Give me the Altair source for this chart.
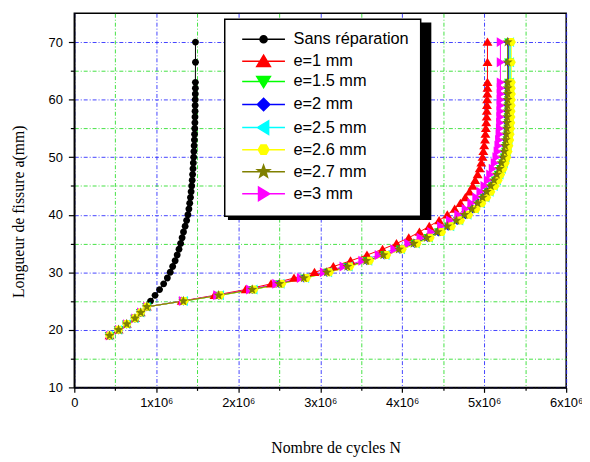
import math
import altair as alt
import pandas as pd

# ---------------- data (N in millions of cycles, a in mm) ----------------
A_MM = [19, 20, 21, 22, 23, 24, 25, 26, 27, 28, 29, 30, 31, 32, 33, 34, 35, 36, 37, 38,
        39, 40, 41, 42, 43, 44, 45, 46, 47, 48, 49, 50, 51, 52, 53, 54, 55, 56, 57, 58,
        59, 60, 61, 62, 63, 66.5, 70]

SERIES = ["Sans réparation", "e=1 mm", "e=1.5 mm", "e=2 mm", "e=2.5 mm",
          "e=2.6 mm", "e=2.7 mm", "e=3 mm"]

N_SANS = [0.43, 0.54, 0.64, 0.74, 0.81, 0.885, 0.93, 0.985, 1.04, 1.09, 1.135, 1.17, 1.20, 1.23,
          1.255, 1.277, 1.297, 1.315, 1.332, 1.352, 1.37, 1.386, 1.398, 1.408, 1.417, 1.425,
          1.432, 1.438, 1.443, 1.448, 1.452, 1.456, 1.459, 1.462, 1.465, 1.467, 1.469, 1.471,
          1.472, 1.473, 1.474, 1.475, 1.476, 1.477, 1.477, 1.478, 1.478]
N_E1 = [0.43, 0.54, 0.64, 0.74, 0.81, 0.885, 1.31, 1.71, 2.09, 2.40, 2.68, 2.93, 3.16, 3.37,
        3.57, 3.76, 3.93, 4.08, 4.21, 4.33, 4.45, 4.55, 4.64, 4.71, 4.77, 4.82, 4.86, 4.89,
        4.92, 4.945, 4.965, 4.98, 4.99, 5.0, 5.01, 5.015, 5.02, 5.025, 5.03, 5.032, 5.034,
        5.036, 5.038, 5.04, 5.04, 5.04, 5.04]
N_E15 = [0.43, 0.54, 0.64, 0.74, 0.81, 0.885, 1.33, 1.77, 2.18, 2.51, 2.81, 3.09, 3.34, 3.58,
         3.79, 3.98, 4.16, 4.32, 4.45, 4.57, 4.68, 4.78, 4.87, 4.94, 5.0, 5.05, 5.1, 5.14,
         5.175, 5.205, 5.23, 5.25, 5.265, 5.275, 5.283, 5.289, 5.293, 5.296, 5.298, 5.3,
         5.301, 5.302, 5.303, 5.303, 5.303, 5.303, 5.303]
N_E2 = [0.43, 0.54, 0.64, 0.74, 0.81, 0.885, 1.33, 1.76, 2.17, 2.50, 2.80, 3.08, 3.33, 3.57,
        3.78, 3.97, 4.15, 4.31, 4.44, 4.56, 4.67, 4.77, 4.86, 4.93, 4.99, 5.04, 5.09, 5.13,
        5.165, 5.195, 5.22, 5.24, 5.255, 5.265, 5.273, 5.279, 5.283, 5.286, 5.288, 5.29,
        5.291, 5.292, 5.293, 5.293, 5.293, 5.293, 5.293]
N_E25 = [0.43, 0.54, 0.64, 0.74, 0.81, 0.885, 1.34, 1.78, 2.19, 2.52, 2.82, 3.10, 3.35, 3.59,
         3.80, 3.99, 4.17, 4.33, 4.47, 4.59, 4.70, 4.80, 4.89, 4.96, 5.02, 5.07, 5.12, 5.16,
         5.19, 5.22, 5.245, 5.265, 5.28, 5.29, 5.30, 5.306, 5.31, 5.313, 5.315, 5.317,
         5.318, 5.319, 5.32, 5.32, 5.32, 5.32, 5.32]
N_E26 = [0.43, 0.54, 0.64, 0.74, 0.81, 0.885, 1.34, 1.78, 2.19, 2.53, 2.83, 3.11, 3.36, 3.60,
         3.81, 4.00, 4.18, 4.34, 4.48, 4.60, 4.71, 4.81, 4.90, 4.97, 5.03, 5.08, 5.13, 5.17,
         5.20, 5.23, 5.255, 5.275, 5.29, 5.30, 5.31, 5.315, 5.32, 5.323, 5.325, 5.327,
         5.328, 5.329, 5.33, 5.33, 5.33, 5.33, 5.33]
N_E27 = [0.43, 0.54, 0.64, 0.74, 0.81, 0.885, 1.33, 1.76, 2.17, 2.50, 2.80, 3.08, 3.33, 3.56,
         3.77, 3.96, 4.14, 4.30, 4.43, 4.55, 4.66, 4.76, 4.85, 4.92, 4.98, 5.03, 5.08, 5.12,
         5.155, 5.185, 5.21, 5.23, 5.245, 5.255, 5.263, 5.27, 5.275, 5.278, 5.28, 5.282,
         5.283, 5.284, 5.285, 5.285, 5.285, 5.285, 5.285]
N_E3 = [0.43, 0.54, 0.64, 0.74, 0.81, 0.885, 1.32, 1.74, 2.14, 2.46, 2.76, 3.04, 3.28, 3.51,
        3.71, 3.90, 4.07, 4.22, 4.35, 4.47, 4.58, 4.68, 4.77, 4.84, 4.90, 4.95, 5.00, 5.04,
        5.07, 5.10, 5.125, 5.145, 5.16, 5.17, 5.178, 5.184, 5.188, 5.191, 5.193, 5.195,
        5.196, 5.197, 5.198, 5.198, 5.198, 5.198, 5.198]

N_ALL = [N_SANS, N_E1, N_E15, N_E2, N_E25, N_E26, N_E27, N_E3]

X_TICKS = [0, 0.5, 1, 1.5, 2, 2.5, 3, 3.5, 4, 4.5, 5, 5.5, 6]
Y_TICKS = [10, 15, 20, 25, 30, 35, 40, 45, 50, 55, 60, 65, 70]

# ---------------- styles ----------------
COLORS = ["#000000", "#ff0000", "#00ff00", "#0000ff", "#00ffff", "#ffff00", "#808000", "#ff00ff"]


def poly(pts, s=1.0):
    return "M" + " L".join(f"{x * s:.3f},{y * s:.3f}" for x, y in pts) + " Z"


def circ(r):
    return f"M{-r},0 A{r},{r} 0 1,1 {r},0 A{r},{r} 0 1,1 {-r},0 Z"


TRI_UP = [(0, -1.05), (1.15, 0.85), (-1.15, 0.85)]
TRI_DN = [(0, 1.05), (1.15, -0.85), (-1.15, -0.85)]
DIAM = [(0, -1.05), (1.05, 0), (0, 1.05), (-1.05, 0)]
TRI_LT = [(-1.05, 0), (0.85, -1.15), (0.85, 1.15)]
TRI_RT = [(1.05, 0), (-0.85, -1.15), (-0.85, 1.15)]
HEXA = [(1, 0), (0.5, 0.87), (-0.5, 0.87), (-1, 0), (-0.5, -0.87), (0.5, -0.87)]
STAR = [((1.1 if i % 2 == 0 else 0.45) * math.cos(math.radians(-90 + 36 * i)),
         (1.1 if i % 2 == 0 else 0.45) * math.sin(math.radians(-90 + 36 * i))) for i in range(10)]

MARKERS = [circ(1), poly(TRI_UP), poly(TRI_DN), poly(DIAM), poly(TRI_LT), poly(HEXA, 1.0),
           poly(STAR), poly(TRI_RT)]
SIZES = [48, 76, 76, 72, 76, 86, 96, 76]

LINE_SEG = " M-3.6,0 L3.6,0"
LEGEND_SHAPES = [circ(0.6) + LINE_SEG, poly(TRI_UP) + LINE_SEG, poly(TRI_DN) + LINE_SEG,
                 poly(DIAM) + LINE_SEG, poly(TRI_LT) + LINE_SEG, poly(HEXA, 0.9) + LINE_SEG,
                 poly(STAR) + LINE_SEG, poly(TRI_RT) + LINE_SEG]

# ---------------- table ----------------
rows = []
for s, ns in zip(SERIES, N_ALL):
    for a, n in zip(A_MM, ns):
        rows.append({"series": s, "shadow": s + " ", "N": n, "a": a})
df = pd.DataFrame(rows)
SHADOW_DOMAIN = [s + " " for s in SERIES]

GRID_TEST_X = "datum.value % 1 != 0"
GRID_TEST_Y = "datum.value % 10 != 0"

x_axis = alt.Axis(
    values=X_TICKS,
    labelExpr="datum.value % 1 == 0 ? (datum.value == 0 ? '0' : datum.value + 'x10⁶') : ''",
    grid=True,
    gridColor={"condition": {"test": GRID_TEST_X, "value": "#22dd22"}, "value": "#2222ff"},
    gridDash=[4, 2, 1, 2], gridWidth=1, gridOpacity=0.85,
    tickSize={"condition": {"test": GRID_TEST_X, "value": 3}, "value": 5},
    tickColor="black", tickWidth=1.2,
    domainColor="black", domainWidth=1.5,
    labelFont="Liberation Sans", labelFontSize=13, labelColor="black", labelPadding=4,
    labelFlush=False, labelOverlap=False,
    title="Nombre de cycles N", titleFont="Liberation Serif", titleFontSize=16,
    titleFontWeight="normal", titleColor="black", titleX=264, titleY=61,
    titleAlign="center", titleBaseline="middle",
)
y_axis = alt.Axis(
    values=Y_TICKS,
    labelExpr="datum.value % 10 == 0 ? datum.value : ''",
    grid=True,
    gridColor={"condition": {"test": GRID_TEST_Y, "value": "#22dd22"}, "value": "#2222ff"},
    gridDash=[4, 2, 1, 2], gridWidth=1, gridOpacity=0.85,
    tickSize={"condition": {"test": GRID_TEST_Y, "value": 4}, "value": 6},
    tickColor="black", tickWidth=1.2,
    domainColor="black", domainWidth=1.5,
    labelFont="Liberation Sans", labelFontSize=13, labelColor="black", labelPadding=6,
    labelFlush=False, labelOverlap=False,
    title="Longueur de fissure a(mm)", titleFont="Liberation Serif", titleFontSize=16,
    titleFontWeight="normal", titleColor="black", titleX=-56, titleY=200,
    titleAlign="center", titleBaseline="middle",
)

x_enc = alt.X("N:Q", scale=alt.Scale(domain=[0, 6], nice=False, zero=False), axis=x_axis)
y_enc = alt.Y("a:Q", scale=alt.Scale(domain=[10, 75], nice=False, zero=False), axis=y_axis)

base = alt.Chart(df)

DRAW_ORDER = [0, 1, 2, 3, 4, 7, 5, 6]
layers = []
for i in DRAW_ORDER:
    sub = base.transform_filter(alt.datum.series == SERIES[i])
    layers.append(
        sub.mark_line(strokeWidth=1, color=COLORS[i], clip=True)
        .encode(x=x_enc, y=y_enc, order=alt.Order("a:Q"))
    )
for i in DRAW_ORDER:
    sub = base.transform_filter(alt.datum.series == SERIES[i])
    layers.append(
        sub.mark_point(shape=MARKERS[i], filled=True, size=SIZES[i], color=COLORS[i], opacity=1)
        .encode(x=x_enc, y=y_enc)
    )

LEG_COMMON = dict(
    title=None, orient="none", padding=12,
    labelFont="Liberation Sans", labelFontSize=16.5,
    symbolOffset=19, rowPadding=3.3, symbolStrokeWidth=1.5,
    symbolSize=144, labelLimit=300,
)
leg = alt.Legend(legendX=152, legendY=6, strokeColor="black", fillColor="white",
                 labelColor="black", labelOffset=22, zindex=2, **LEG_COMMON)
# drop shadow of the legend box: same box, black, offset, without label texts
shadow_leg = alt.Legend(legendX=156, legendY=10, strokeColor="black", fillColor="black",
                        labelColor="black", symbolFillColor="black", symbolStrokeColor="black",
                        labelOffset=144, labelExpr="''", zindex=1, **LEG_COMMON)

legend_layer = base.transform_filter("datum.a < 0").mark_point(
    filled=True, size=144, strokeWidth=1.5, opacity=1
).encode(
    x=x_enc, y=y_enc,
    fill=alt.Fill("series:N", scale=alt.Scale(domain=SERIES, range=COLORS), legend=leg),
    stroke=alt.Stroke("series:N", scale=alt.Scale(domain=SERIES, range=COLORS), legend=leg),
    shape=alt.Shape("series:N", scale=alt.Scale(domain=SERIES, range=LEGEND_SHAPES), legend=leg),
    strokeDash=alt.StrokeDash("shadow:N", scale=alt.Scale(domain=SHADOW_DOMAIN,
                                                           range=[[1, 0]] * len(SERIES)),
                              legend=shadow_leg),
)
layers.append(legend_layer)

chart = alt.layer(*layers).properties(
    width=497, height=378,
    autosize=alt.AutoSizeParams(type="none"),
    padding={"left": 67, "top": 3, "right": 16, "bottom": 72},
).configure_view(stroke="black", strokeWidth=1.5).configure_legend(strokeWidth=1.5)

chart.save("out.html", embed_options={"renderer": "svg", "actions": False})
